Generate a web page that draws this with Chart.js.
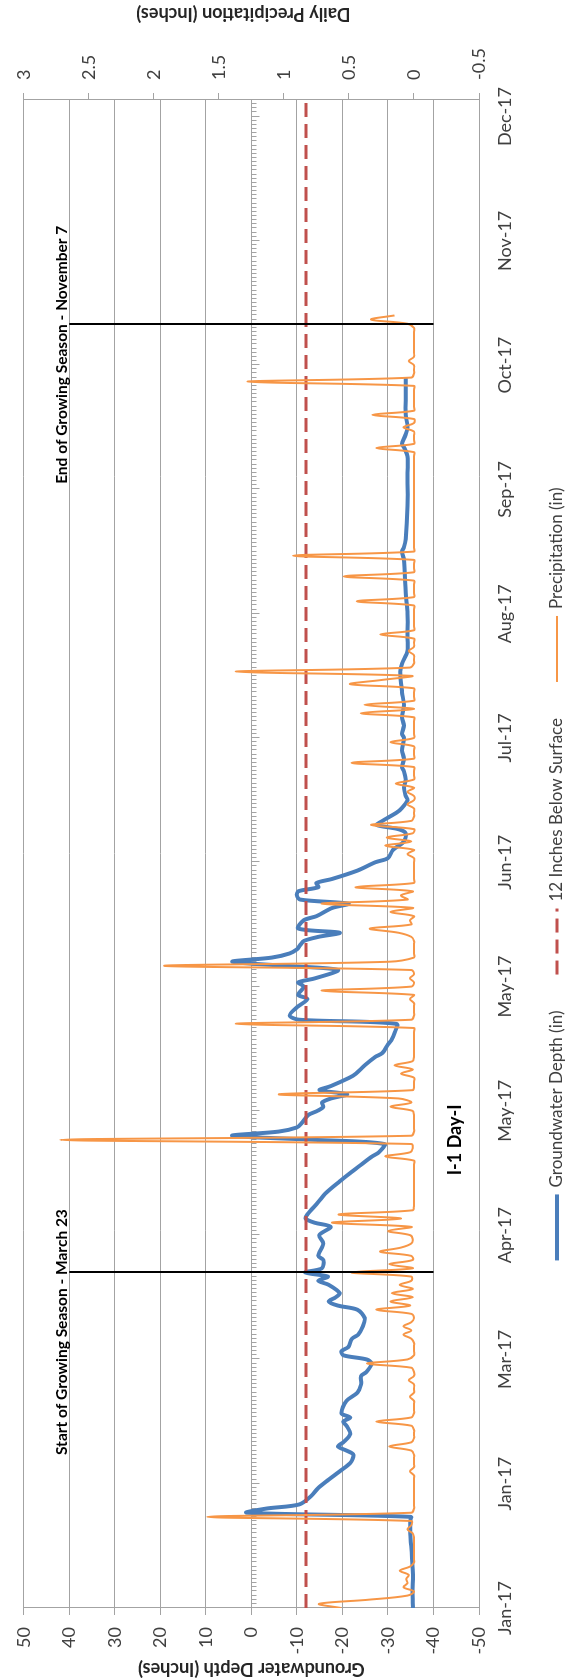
<!DOCTYPE html>
<html>
<head>
<meta charset="utf-8">
<script src="https://cdn.jsdelivr.net/npm/chart.js@4.4.1/dist/chart.umd.min.js"></script>
<style>
  html, body { margin: 0; padding: 0; background: #ffffff; }
  body { width: 565px; height: 1680px; overflow: hidden; position: relative; }
  /* the chart is laid out landscape and turned a quarter turn to stand upright */
  #frame {
    position: absolute; left: 0; top: 0;
    width: 1680px; height: 565px;
    transform-origin: 0 0;
    transform: translate(0px, 1680px) rotate(-90deg);
  }
  canvas { display: block; }
</style>
</head>
<body>
<div id="frame"><canvas id="chart" width="1680" height="565"></canvas></div>
<script>
// ---- date axis: days counted from 1 Jan 2017, ticks every 30 days ----
const dateTickDays   = [0, 30, 60, 90, 120, 150, 180, 210, 240, 270, 300, 330, 360];
const dateTickLabels = ['Jan-17', 'Jan-17', 'Mar-17', 'Apr-17', 'May-17', 'May-17', 'Jun-17',
                        'Jul-17', 'Aug-17', 'Sep-17', 'Oct-17', 'Nov-17', 'Dec-17'];

// ---- groundwater depth (in), logger readings by day of year ----
const gwDay = [
  0, 4, 8, 12, 15, 18, 21, 22, 23, 24, 25, 27, 29, 31, 33, 35, 37, 38, 39, 40,
  42, 44, 45, 46, 47, 50, 52, 54, 56, 57, 59, 60, 61, 62, 63, 65, 66, 68, 70, 72,
  73, 74, 75, 76, 78, 79, 80, 81, 82, 84, 85, 88, 90, 92, 93, 94, 95, 98, 100, 103,
  105, 107, 109, 110, 112, 113, 114, 115, 116, 117, 119, 120, 121, 122, 123, 124, 125, 126, 128, 129,
  131, 133, 134, 136, 137, 139, 141, 142, 143, 145, 147, 148, 150, 151, 152, 154, 155, 156, 157, 158,
  159, 160, 161, 162, 163, 164, 166, 167, 169, 170, 171, 172, 173, 174, 175, 176, 178, 180, 181, 183,
  185, 187, 188, 189, 190, 192, 193, 195, 196, 198, 200, 202, 203, 205, 207, 210, 211, 213, 215, 218,
  221, 226, 228, 231, 234, 240, 245, 253, 255, 256, 258, 266, 274, 278, 280, 281, 283, 285, 288, 293,
  297
];
const gwDepth = [
  -35.5, -35.4, -35.5, -35.3, -35.1, -34.9, -34.9, -35.0, 1.0, -3.3, -10.5, -13.1, -14.7, -17.0, -19.4, -21.7, -22.4, -20.9, -19.0, -20.2,
  -21.7, -20.9, -20.2, -21.7, -19.8, -20.9, -23.3, -24.1, -24.1, -25.3, -26.4, -25.3, -20.2, -19.8, -21.3, -22.1, -23.5, -24.5, -24.9, -23.3,
  -19.0, -17.0, -18.5, -19.4, -17.0, -14.7, -16.8, -11.8, -15.5, -15.8, -14.7, -15.8, -14.9, -17.4, -13.9, -11.9, -12.3, -14.7, -16.2, -19.4,
  -21.7, -24.1, -26.5, -28.0, -29.2, -14.0, 4.2, -6.0, -10.0, -11.0, -12.5, -14.5, -15.8, -15.5, -17.5, -21.0, -15.0, -17.5, -21.5, -23.0,
  -24.9, -27.2, -28.8, -30.0, -30.7, -31.5, -31.9, -10.5, -8.4, -10.0, -12.3, -10.3, -11.5, -10.3, -14.0, -19.0, -7.6, 4.2, -4.5, -8.4,
  -10.0, -10.7, -11.5, -14.7, -19.4, -10.3, -11.5, -14.3, -17.8, -21.3, -10.7, -10.0, -10.3, -14.7, -14.3, -17.8, -23.3, -27.2, -30.0, -31.1,
  -33.5, -33.9, -32.3, -27.6, -28.8, -31.9, -33.0, -34.3, -33.9, -33.5, -33.9, -33.5, -33.1, -33.5, -33.1, -33.5, -33.1, -33.5, -33.1, -33.5,
  -33.1, -32.7, -33.1, -34.3, -34.3, -34.3, -33.9, -33.5, -33.1, -33.5, -33.9, -34.3, -34.3, -34.3, -33.6, -33.1, -33.8, -34.3, -33.9, -33.9,
  -33.9
];

// ---- reference depth: 12 inches below the surface ----
const thresholdDay   = [0, 364];
const thresholdDepth = [-12, -12];

// ---- daily precipitation (in), one value per day from 1 Jan ----
const precipStartDay = 0;
const precipIn = [
  0.56, 0.73, 0.35, 0.05, 0, 0.08, 0.05, 0.06, 0.04, 0.11,      // day 0
  0.03, 0, 0, 0, 0, 0, 0, 0, 0.01, 0.05,                        // day 10
  0.02, 0.02, 1.59, 0.02, 0, 0, 0, 0, 0, 0,                     // day 20
  0, 0, 0, 0.03, 0, 0, 0, 0, 0.02, 0.19,                        // day 30
  0.02, 0, 0, 0, 0.02, 0.29, 0.02, 0, 0, 0,                     // day 40
  0, 0.03, 0, 0, 0, 0.04, 0, 0, 0.02, 0.36,                     // day 50
  0.05, 0, 0, 0, 0, 0.02, 0.08, 0.02, 0.08, 0.02,               // day 60
  0, 0.02, 0.29, 0.03, 0.18, 0.01, 0.17, 0.01, 0.11, 0.02,      // day 70
  0.02, 0.48, 0.01, 0.19, 0.01, 0.02, 0.26, 0.10, 0.02, 0.01,   // day 80
  0.03, 0.20, 0.02, 0.63, 0.10, 0.58, 0.01, 0, 0, 0,           // day 90
  0, 0, 0, 0, 0, 0, 0, 0, 0, 0.22,                              // day 100
  0.03, 0.01, 0.02, 2.72, 0.02, 0, 0, 0, 0, 0,                  // day 110
  0.01, 0.18, 0.02, 0.12, 1.04, 0.01, 0, 0, 0, 0.10,            // day 120
  0.01, 0.15, 0.01, 0, 0, 0, 0, 0, 0, 0,                        // day 130
  0, 1.37, 0.02, 0, 0, 0, 0, 0.03, 0, 0.71,                     // day 140
  0.02, 0, 0.03, 0, 0.02, 1.92, 0.19, 0, 0, 0,                  // day 150
  0, 0, 0.02, 0.12, 0.34, 0.02, 0.03, 0, 0.18, 0.01,            // day 160
  0.71, 0.05, 0.10, 0.01, 0.45, 0, 0, 0, 0, 0,                  // day 170
  0, 0, 0.05, 0, 0.22, 0.02, 0.21, 0.01, 0, 0.33,               // day 180
  0.02, 0, 0, 0, 0.05, 0, 0, 0.05, 0, 0.14,                     // day 190
  0, 0, 0, 0, 0.48, 0, 0, 0, 0, 0.18,                           // day 200
  0, 0, 0, 0, 0, 0, 0.41, 0, 0.38, 0,                           // day 210
  0, 0, 0, 0.49, 0.25, 0.02, 1.37, 0.03, 0, 0,                  // day 220
  0, 0.04, 0, 0, 0, 0.26, 0, 0, 0, 0,                           // day 230
  0, 0, 0, 0.44, 0, 0, 0, 0, 0, 0.54,                           // day 240
  0, 0, 0, 0, 0.93, 0, 0, 0, 0, 0,                              // day 250
  0, 0, 0, 0, 0, 0, 0, 0, 0, 0,                                 // day 260
  0, 0, 0, 0, 0, 0, 0, 0, 0, 0,                                 // day 270
  0.29, 0, 0, 0, 0, 0.08, 0, 0, 0.32, 0,                        // day 280
  0, 0, 0, 0, 0, 0, 1.28, 0.02, 0, 0,                           // day 290
  0, 0.04, 0, 0, 0, 0, 0, 0, 0, 0,                              // day 300
  0.05, 0.33, 0.15                                              // day 310
];

// ---- growing season bounds (day of year) ----
const seasonDays   = [81, 310];
const seasonLabels = ['Start of Growing Season - March 23', 'End of Growing Season - November 7'];

// ---- styling ----
const FONT      = 'Lato, "Open Sans", "DejaVu Sans", sans-serif';
const TICK_TEXT = '#404040';
const GRID      = '#a3a3a3';
const C_GW      = '#4a7ebb';
const C_LIMIT   = '#c0504d';
const C_RAIN    = '#f79646';

// where the free text sits, in axis units
const seasonTextDay   = [66.6, 302.5];
const seasonTextDepth = 41.6;
const titleDay = 113, titleDepth = -44.8;

const gwPoints     = gwDay.map((d, i) => ({ x: d, y: gwDepth[i] }));
const limitPoints  = thresholdDay.map((d, i) => ({ x: d, y: thresholdDepth[i] }));
const precipPoints = precipIn.map((v, i) => ({ x: precipStartDay + i, y: v }));

const decorations = {
  id: 'decorations',
  beforeDatasetsDraw(chart) {
    // minor day ticks along the zero line of the depth axis
    const { ctx, scales: { x, y } } = chart;
    const y0 = Math.round(y.getPixelForValue(0)) + 0.5;
    ctx.save();
    ctx.strokeStyle = GRID;
    ctx.lineWidth = 1;
    ctx.beginPath();
    for (let d = Math.ceil(x.min); d <= x.max; d++) {
      const px = Math.round(x.getPixelForValue(d)) + 0.5;
      const len = dateTickDays.includes(d) ? 8 : 5;
      ctx.moveTo(px, y0);
      ctx.lineTo(px, y0 + len);
    }
    ctx.stroke();
    ctx.restore();
  },
  afterDatasetsDraw(chart) {
    const { ctx, scales: { x, y } } = chart;
    ctx.save();
    // growing season markers
    ctx.strokeStyle = '#000000';
    ctx.lineWidth = 2;
    seasonDays.forEach(d => {
      const px = Math.round(x.getPixelForValue(d));
      ctx.beginPath();
      ctx.moveTo(px, y.getPixelForValue(40));
      ctx.lineTo(px, y.getPixelForValue(-40));
      ctx.stroke();
    });
    ctx.fillStyle = '#000000';
    ctx.textAlign = 'center';
    ctx.textBaseline = 'middle';
    ctx.font = `bold 15.5px ${FONT}`;
    seasonLabels.forEach((t, i) => {
      ctx.fillText(t, x.getPixelForValue(seasonTextDay[i]), y.getPixelForValue(seasonTextDepth));
    });
    // site label
    ctx.font = `bold 18px ${FONT}`;
    ctx.fillText('I-1 Day-I', x.getPixelForValue(titleDay), y.getPixelForValue(titleDepth));
    ctx.restore();
  },
  afterDraw(chart) {
    const { ctx, chartArea } = chart;
    ctx.save();
    // axis titles, both reading upward
    ctx.fillStyle = '#262626';
    ctx.font = `bold 18px ${FONT}`;
    ctx.textAlign = 'center';
    ctx.textBaseline = 'middle';
    const midY = (chartArea.top + chartArea.bottom) / 2;
    [[11, midY, 'Groundwater Depth (Inches)'], [1666, midY - 8, 'Daily Precipitation (Inches)']].forEach(([tx, ty, t]) => {
      ctx.save();
      ctx.translate(tx, ty);
      ctx.rotate(-Math.PI / 2);
      ctx.fillText(t, 0, 0);
      ctx.restore();
    });

    // legend
    const ds = chart.data.datasets;
    const items = [ds[0], ds[1], ds[2]];
    const MARK = 66, GAP_TEXT = 7, GAP_ITEM = 36, LEGEND_Y = 557, LEGEND_CX = 806;
    ctx.font = `17px ${FONT}`;
    const widths = items.map(it => MARK + GAP_TEXT + ctx.measureText(it.label).width);
    const total = widths.reduce((a, b) => a + b, 0) + GAP_ITEM * (items.length - 1);
    let cx = LEGEND_CX - total / 2;
    items.forEach((it, i) => {
      ctx.strokeStyle = it.borderColor;
      ctx.lineWidth = it.borderWidth;
      ctx.setLineDash(it.borderDash || []);
      ctx.beginPath();
      ctx.moveTo(cx, LEGEND_Y);
      ctx.lineTo(cx + MARK, LEGEND_Y);
      ctx.stroke();
      ctx.setLineDash([]);
      ctx.fillStyle = TICK_TEXT;
      ctx.textAlign = 'left';
      ctx.fillText(it.label, cx + MARK + GAP_TEXT, LEGEND_Y);
      cx += widths[i] + GAP_ITEM;
    });
    ctx.restore();
  }
};

new Chart(document.getElementById('chart'), {
  type: 'line',
  data: {
    datasets: [
      {
        label: 'Groundwater Depth (in)',
        data: gwPoints,
        yAxisID: 'y',
        borderColor: C_GW,
        borderWidth: 4,
        pointRadius: 0,
        tension: 0.3,
        order: 2
      },
      {
        label: '12 Inches Below Surface',
        data: limitPoints,
        yAxisID: 'y',
        borderColor: C_LIMIT,
        borderWidth: 3,
        borderDash: [14, 7],
        pointRadius: 0,
        tension: 0,
        order: 1
      },
      {
        label: 'Precipitation (in)',
        data: precipPoints,
        yAxisID: 'y2',
        borderColor: C_RAIN,
        borderWidth: 2,
        pointRadius: 0,
        tension: 0.35,
        order: 0
      }
    ]
  },
  options: {
    responsive: false,
    animation: false,
    events: [],
    layout: { padding: { top: 19, left: 0, right: 0, bottom: 0 } },
    plugins: {
      legend: { display: false },
      tooltip: { enabled: false },
      title: { display: false }
    },
    scales: {
      x: {
        type: 'linear',
        position: 'bottom',
        min: 0,
        max: 364,
        afterBuildTicks: s => { s.ticks = dateTickDays.map(v => ({ value: v })); },
        afterFit: s => { s.height = 86; },
        grid: { display: false, drawTicks: false },
        border: { display: false },
        ticks: {
          autoSkip: false, maxRotation: 0, minRotation: 0, padding: 15,
          color: TICK_TEXT, font: { family: FONT, size: 18 },
          callback: (v, i) => dateTickLabels[i]
        }
      },
      y: {
        position: 'left',
        min: -50,
        max: 50,
        afterFit: s => { s.width = 72; },
        grid: { color: GRID, lineWidth: 1, drawTicks: true, tickLength: 7 },
        border: { display: true, color: GRID },
        ticks: { stepSize: 10, padding: 12, color: TICK_TEXT, font: { family: FONT, size: 18 } }
      },
      y2: {
        position: 'right',
        min: -0.5,
        max: 3,
        afterFit: s => { s.width = 100; },
        grid: { drawOnChartArea: false, color: GRID, drawTicks: true, tickLength: 7 },
        border: { display: true, color: GRID },
        ticks: {
          stepSize: 0.5, padding: 13, color: TICK_TEXT, font: { family: FONT, size: 18 },
          callback: v => String(Math.round(v * 10) / 10)
        }
      }
    }
  },
  plugins: [decorations]
});
</script>
</body>
</html>
